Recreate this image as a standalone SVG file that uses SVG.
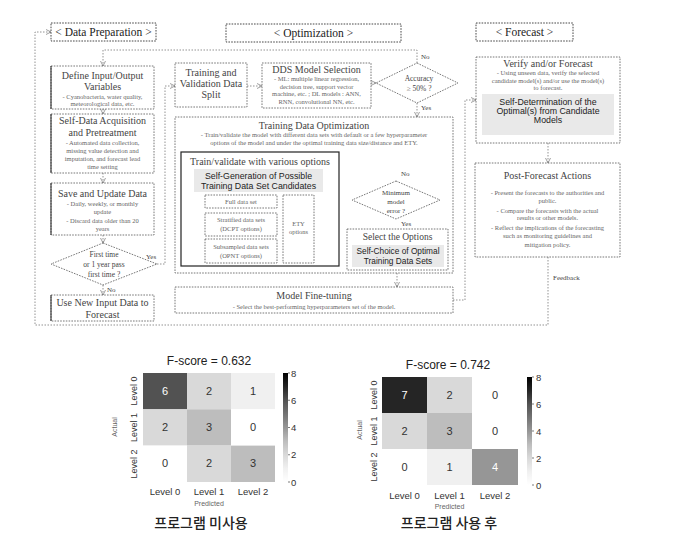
<svg xmlns="http://www.w3.org/2000/svg" width="675" height="538" viewBox="0 0 675 538">
<style>
.bx{fill:#fff;stroke:#555;stroke-width:0.8;stroke-dasharray:1.6 1.2}
.hd{fill:#fff;stroke:#333;stroke-width:0.9;stroke-dasharray:1.6 1.2}
.cn{fill:none;stroke:#777;stroke-width:0.8;stroke-dasharray:1.5 1.5}
.ar{fill:none;stroke:#777;stroke-width:0.8;stroke-dasharray:1.5 1.5;marker-end:url(#ah)}
.sl{fill:none;stroke:#222;stroke-width:1.2}
.gr{fill:#e9e9e9;stroke:none}
.t{font-family:"Liberation Serif","Times New Roman",serif;fill:#444;text-anchor:middle}
.h{font-size:11.5px;fill:#222}
.ti{font-size:10px}
.d{font-size:6.5px;fill:#666}
.s{font-family:"Liberation Sans",Arial,sans-serif;fill:#222;text-anchor:middle}
.g9{font-size:8.8px}
.hm{font-family:"Liberation Sans",Arial,sans-serif;text-anchor:middle;fill:#333}
.v{font-size:11px}
.lb{font-size:9.5px}
.yl{font-size:9px}
.sm{font-size:7px;fill:#666}
.kr{font-family:"Noto Sans CJK KR","Noto Sans",sans-serif;font-size:14px;fill:#222;text-anchor:middle;font-weight:500}
</style>
<defs>
<marker id="ah" markerWidth="6" markerHeight="6" refX="5" refY="3" orient="auto" markerUnits="userSpaceOnUse">
<path d="M0,0.5 L5,3 L0,5.5" fill="none" stroke="#777" stroke-width="0.7"/>
</marker>
<linearGradient id="cb" x1="0" y1="0" x2="0" y2="1">
<stop offset="0" stop-color="#000"/>
<stop offset="0.125" stop-color="#252525"/>
<stop offset="0.25" stop-color="#525252"/>
<stop offset="0.375" stop-color="#737373"/>
<stop offset="0.5" stop-color="#969696"/>
<stop offset="0.625" stop-color="#bdbdbd"/>
<stop offset="0.75" stop-color="#d9d9d9"/>
<stop offset="0.875" stop-color="#f0f0f0"/>
<stop offset="1" stop-color="#fff"/>
</linearGradient>
</defs>

<g id="connectors">
<path class="ar" d="M548,257 V325 H35 V32 H51"/>
<path class="ar" d="M103,109 V114"/>
<path class="ar" d="M103,173 V183"/>
<path class="ar" d="M103,235 V243"/>
<path class="ar" d="M103,285 V295"/>
<path class="ar" d="M157,264 H165 V86 H175"/>
<path class="ar" d="M417,63 V50 H103 V66"/>
<path class="ar" d="M247,86 H262"/>
<path class="ar" d="M371,83 H376"/>
<path class="ar" d="M417,103 V117"/>
<path class="ar" d="M396,181 V148 H260 V152"/>
<path class="ar" d="M339,200 H352"/>
<path class="ar" d="M396,219 V229"/>
<path class="ar" d="M397,270 V287"/>
<path class="ar" d="M453,300 H465 V100 H476"/>
<path class="ar" d="M548,143 V163"/>
<path d="M277,201 H283 M277,224 H283 M277,251 H283 M281,197 V205 M281,220 V228 M281,247 V255" stroke="#444" stroke-width="0.7" fill="none"/>
</g>

<g id="hdr-prep"><rect class="hd" x="51" y="23" width="105" height="18"/><text class="t h" x="103.5" y="36">&lt; Data Preparation &gt;</text></g>
<g id="hdr-opt"><rect class="hd" x="226" y="24" width="175" height="18"/><text class="t h" x="313.5" y="37">&lt; Optimization &gt;</text></g>
<g id="hdr-fc"><rect class="hd" x="476" y="23" width="97" height="18"/><text class="t h" x="524.5" y="36">&lt; Forecast &gt;</text></g>

<g id="define">
<rect class="bx" x="51" y="66" width="103" height="43"/><line x1="51" y1="66" x2="51" y2="109" stroke="#222" stroke-width="1"/>
<text class="t ti" x="102.5" y="79">Define Input/Output</text>
<text class="t ti" x="102.5" y="90">Variables</text>
<text class="t d" x="102.5" y="98.5">- Cyanobacteria, water quality,</text>
<text class="t d" x="102.5" y="105.5">meteorological data, etc.</text>
</g>
<g id="acquire">
<rect class="bx" x="51" y="114" width="103" height="59"/><line x1="51" y1="114" x2="51" y2="173" stroke="#222" stroke-width="1"/>
<text class="t ti" x="102.5" y="124">Self-Data Acquisition</text>
<text class="t ti" x="102.5" y="136">and Pretreatment</text>
<text class="t d" x="102.5" y="145">- Automated data collection,</text>
<text class="t d" x="102.5" y="153">missing value detection and</text>
<text class="t d" x="102.5" y="161">imputation, and forecast lead</text>
<text class="t d" x="102.5" y="169">time setting</text>
</g>
<g id="save">
<rect class="bx" x="51" y="183" width="103" height="52"/><line x1="51" y1="183" x2="51" y2="235" stroke="#222" stroke-width="1"/>
<text class="t ti" x="102.5" y="197">Save and Update Data</text>
<text class="t d" x="102.5" y="205.5">- Daily, weekly, or monthly</text>
<text class="t d" x="102.5" y="213.5">update</text>
<text class="t d" x="102.5" y="223">- Discard data older than 20</text>
<text class="t d" x="102.5" y="231">years</text>
</g>
<g id="firsttime">
<polygon class="bx" points="103,243 157,264 103,285 51,264"/>
<text class="t" style="font-size:7.5px" x="104" y="257">First time</text>
<text class="t" style="font-size:7.5px" x="104" y="267">or 1 year pass</text>
<text class="t" style="font-size:7.5px" x="104" y="277">first time ?</text>
<text class="t" style="font-size:7px;text-anchor:start" x="146" y="259">Yes</text>
<text class="t" style="font-size:7px;text-anchor:start" x="107" y="292">No</text>
</g>
<g id="usenew">
<rect class="bx" x="51" y="295" width="103" height="26"/><line x1="51" y1="295" x2="51" y2="321" stroke="#222" stroke-width="1"/>
<text class="t ti" x="102.5" y="306">Use New Input Data to</text>
<text class="t ti" x="102.5" y="318">Forecast</text>
</g>

<g id="split">
<rect class="bx" x="175" y="63" width="72" height="44"/>
<text class="t ti" x="211" y="76">Training and</text>
<text class="t ti" x="211" y="87">Validation Data</text>
<text class="t ti" x="211" y="98">Split</text>
</g>
<g id="dds">
<rect class="bx" x="262" y="63" width="109" height="45"/>
<text class="t ti" x="316.5" y="73">DDS Model Selection</text>
<text class="t d" x="316.5" y="81">- ML: multiple linear regression,</text>
<text class="t d" x="316.5" y="88.5">decision tree, support vector</text>
<text class="t d" x="316.5" y="96">machine, etc. ; DL models : ANN,</text>
<text class="t d" x="316.5" y="103.5">RNN, convolutional NN, etc.</text>
</g>
<g id="accuracy">
<polygon class="bx" points="417,63 458,83 417,103 376,83"/>
<text class="t" style="font-size:7.5px" x="419" y="81">Accuracy</text>
<text class="t" style="font-size:7.5px" x="419" y="91">≥ 50% ?</text>
<text class="t" style="font-size:7px;text-anchor:start" x="421" y="59">No</text>
<text class="t" style="font-size:7px;text-anchor:start" x="421" y="110">Yes</text>
</g>

<g id="tdo">
<rect class="bx" x="175" y="117" width="278" height="156"/>
<text class="t ti" x="314" y="129">Training Data Optimization</text>
<text class="t d" x="314" y="137">- Train/validate the model with different data sets with default or a few hyperparameter</text>
<text class="t d" x="314" y="145">options of the model and under the optimal training data size/distance and ETY.</text>
</g>
<g id="trainval">
<rect class="sl" x="181" y="152" width="158" height="114" fill="#fff"/>
<text class="t ti" x="260" y="165">Train/validate with various options</text>
<rect class="gr" x="194" y="169" width="129" height="23"/>
<text class="s g9" x="258.5" y="179">Self-Generation of Possible</text>
<text class="s g9" x="258.5" y="189">Training Data Set Candidates</text>
</g>
<g id="full"><rect class="bx" x="205" y="195" width="72" height="13"/><text class="t d" x="241" y="204">Full data set</text></g>
<g id="strat"><rect class="bx" x="205" y="213" width="72" height="23"/><text class="t d" x="241" y="222">Stratified data sets</text><text class="t d" x="241" y="231">(DCPT options)</text></g>
<g id="subs"><rect class="bx" x="205" y="239" width="72" height="24"/><text class="t d" x="241" y="249">Subsampled data sets</text><text class="t d" x="241" y="258">(OPNT options)</text></g>
<g id="ety"><rect class="bx" x="283" y="195" width="31" height="68"/><text class="t d" x="298.5" y="226">ETY</text><text class="t d" x="298.5" y="234">options</text></g>

<g id="minerr">
<polygon class="bx" points="396,181 440,200 396,219 352,200"/>
<text class="t" style="font-size:7px" x="396" y="195">Minimum</text>
<text class="t" style="font-size:7px" x="396" y="204">model</text>
<text class="t" style="font-size:7px" x="396" y="213">error ?</text>
<text class="t" style="font-size:7px;text-anchor:start" x="401" y="176">No</text>
<text class="t" style="font-size:7px;text-anchor:start" x="401" y="226">Yes</text>
</g>
<g id="select">
<rect class="bx" x="347" y="229" width="101" height="41"/>
<text class="t" style="font-size:9.5px" x="397.5" y="240">Select the Options</text>
<rect class="gr" x="352" y="245" width="92" height="22"/>
<text class="s" style="font-size:8.3px" x="398" y="254">Self-Choice of Optimal</text>
<text class="s" style="font-size:8.3px" x="398" y="264">Training Data Sets</text>
</g>
<g id="finetune">
<rect class="bx" x="175" y="287" width="278" height="26"/>
<text class="t ti" x="314" y="299">Model Fine-tuning</text>
<text class="t d" x="314" y="309">- Select the best-performing hyperparameters set of the model.</text>
</g>

<g id="verify">
<rect class="bx" x="476" y="57" width="144" height="86"/>
<text class="t ti" x="548" y="67">Verify and/or Forecast</text>
<text class="t d" x="548" y="75">- Using unseen data, verify the selected</text>
<text class="t d" x="548" y="83">candidate model(s) and/or use the model(s)</text>
<text class="t d" x="548" y="90">to forecast.</text>
<rect class="gr" x="482" y="94" width="132" height="41"/>
<text class="s g9" x="548" y="105">Self-Determination of the</text>
<text class="s g9" x="548" y="114">Optimal(s) from Candidate</text>
<text class="s g9" x="548" y="123">Models</text>
</g>
<g id="post">
<rect class="bx" x="475" y="163" width="145" height="94"/>
<text class="t ti" x="547.5" y="179">Post-Forecast Actions</text>
<text class="t d" x="547.5" y="195">- Present the forecasts to the authorities and</text>
<text class="t d" x="547.5" y="203">public.</text>
<text class="t d" x="547.5" y="213">- Compare the forecasts with the actual</text>
<text class="t d" x="547.5" y="220">results or other models.</text>
<text class="t d" x="547.5" y="230">- Reflect the implications of the forecasting</text>
<text class="t d" x="547.5" y="238">such as monitoring guidelines and</text>
<text class="t d" x="547.5" y="247">mitigation policy.</text>
</g>
<text class="t" style="font-size:7px;text-anchor:start" x="553" y="280">Feedback</text>

<g id="cm-left">
<text class="hm" style="font-size:12px;fill:#222" x="209" y="365">F-score = 0.632</text>
<rect x="143" y="373" width="44" height="36.3" fill="#525252"/>
<rect x="187" y="373" width="44" height="36.3" fill="#d9d9d9"/>
<rect x="231" y="373" width="44" height="36.3" fill="#f0f0f0"/>
<rect x="143" y="409.3" width="44" height="36.3" fill="#d9d9d9"/>
<rect x="187" y="409.3" width="44" height="36.3" fill="#bdbdbd"/>
<rect x="231" y="409.3" width="44" height="36.3" fill="#ffffff"/>
<rect x="143" y="445.6" width="44" height="36.4" fill="#ffffff"/>
<rect x="187" y="445.6" width="44" height="36.4" fill="#d9d9d9"/>
<rect x="231" y="445.6" width="44" height="36.4" fill="#bdbdbd"/>
<text class="hm v" x="165" y="395" style="fill:#fff">6</text>
<text class="hm v" x="209" y="395">2</text>
<text class="hm v" x="253" y="395">1</text>
<text class="hm v" x="165" y="431">2</text>
<text class="hm v" x="209" y="431">3</text>
<text class="hm v" x="253" y="431">0</text>
<text class="hm v" x="165" y="467">0</text>
<text class="hm v" x="209" y="467">2</text>
<text class="hm v" x="253" y="467">3</text>
<rect x="283" y="373" width="5" height="109" fill="url(#cb)"/>
<path d="M288,373 h2 M288,400.25 h2 M288,427.5 h2 M288,454.75 h2 M288,482 h2" stroke="#444" stroke-width="0.7"/>
<g class="hm lb" style="text-anchor:start"><text x="291" y="377">8</text><text x="291" y="404">6</text><text x="291" y="431">4</text><text x="291" y="458">2</text><text x="291" y="486">0</text></g>
<text class="hm yl" transform="translate(137,391) rotate(-90)">Level 0</text>
<text class="hm yl" transform="translate(137,427.5) rotate(-90)">Level 1</text>
<text class="hm yl" transform="translate(137,464) rotate(-90)">Level 2</text>
<text class="hm sm" transform="translate(117,427) rotate(-90)">Actual</text>
<text class="hm lb" x="165" y="495">Level 0</text>
<text class="hm lb" x="209" y="495">Level 1</text>
<text class="hm lb" x="253" y="495">Level 2</text>
<text class="hm sm" x="209" y="506">Predicted</text>
<text class="kr" x="201" y="528">프로그램 미사용</text>
</g>

<g id="cm-right">
<text class="hm" style="font-size:12px;fill:#222" x="448" y="369">F-score = 0.742</text>
<rect x="382" y="377" width="45" height="36" fill="#252525"/>
<rect x="427" y="377" width="45" height="36" fill="#d9d9d9"/>
<rect x="472" y="377" width="46" height="36" fill="#ffffff"/>
<rect x="382" y="413" width="45" height="36" fill="#d9d9d9"/>
<rect x="427" y="413" width="45" height="36" fill="#bdbdbd"/>
<rect x="472" y="413" width="46" height="36" fill="#ffffff"/>
<rect x="382" y="449" width="45" height="36" fill="#ffffff"/>
<rect x="427" y="449" width="45" height="36" fill="#f0f0f0"/>
<rect x="472" y="449" width="46" height="36" fill="#969696"/>
<text class="hm v" x="404.5" y="399" style="fill:#fff">7</text>
<text class="hm v" x="449.5" y="399">2</text>
<text class="hm v" x="495" y="399">0</text>
<text class="hm v" x="404.5" y="435">2</text>
<text class="hm v" x="449.5" y="435">3</text>
<text class="hm v" x="495" y="435">0</text>
<text class="hm v" x="404.5" y="471">0</text>
<text class="hm v" x="449.5" y="471">1</text>
<text class="hm v" x="495" y="471" style="fill:#fff">4</text>
<rect x="527" y="377" width="5" height="108" fill="url(#cb)"/>
<path d="M532,377 h2 M532,404 h2 M532,431 h2 M532,458 h2 M532,485 h2" stroke="#444" stroke-width="0.7"/>
<g class="hm lb" style="text-anchor:start"><text x="536" y="381">8</text><text x="536" y="408">6</text><text x="536" y="435">4</text><text x="536" y="462">2</text><text x="536" y="489">0</text></g>
<text class="hm yl" transform="translate(377,395) rotate(-90)">Level 0</text>
<text class="hm yl" transform="translate(377,431) rotate(-90)">Level 1</text>
<text class="hm yl" transform="translate(377,467) rotate(-90)">Level 2</text>
<text class="hm sm" transform="translate(362,430) rotate(-90)">Actual</text>
<text class="hm lb" x="404.5" y="499">Level 0</text>
<text class="hm lb" x="449.5" y="499">Level 1</text>
<text class="hm lb" x="495" y="499">Level 2</text>
<text class="hm sm" x="449.5" y="509">Predicted</text>
<text class="kr" x="449" y="528">프로그램 사용 후</text>
</g>
</svg>
